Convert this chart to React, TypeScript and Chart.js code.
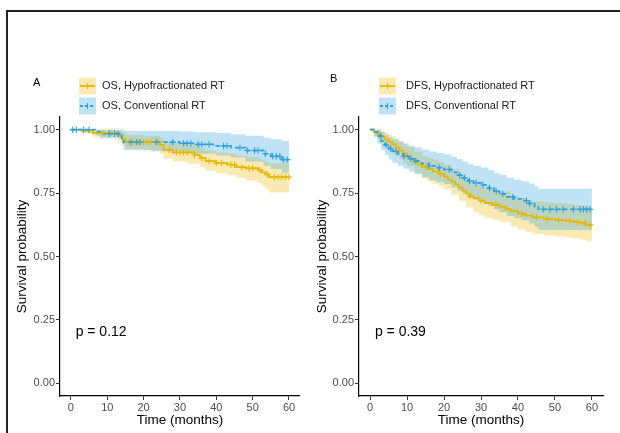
import React, { useEffect, useRef } from "react";
import { Chart, registerables } from "chart.js";

Chart.register(...registerables);
Chart.defaults.font.family = '"Liberation Sans", Arial, sans-serif';

const HYPO_COLOR = "#E7B800";
const CONV_COLOR = "#2E9FDF";
const HYPO_FILL = "rgba(231,184,0,0.3)";
const CONV_FILL = "rgba(46,159,223,0.3)";

// Axis ticks
const xTickValues = [0, 10, 20, 30, 40, 50, 60];
const xTickLabels = ["0", "10", "20", "30", "40", "50", "60"];
const yTickValues = [0, 0.25, 0.5, 0.75, 1];
const yTickLabels = ["0.00", "0.25", "0.50", "0.75", "1.00"];

// Panel A: OS
const osHypoTime = [0, 3, 6, 13, 14, 15, 24.5, 25.5, 28, 34, 35.5, 37, 40, 43, 45.5, 48, 51.5, 52.5, 53.5, 54.5, 60];
const osHypoSurv = [1, 0.995, 0.987, 0.976, 0.964, 0.951, 0.94, 0.92, 0.91, 0.9, 0.888, 0.876, 0.868, 0.862, 0.852, 0.848, 0.84, 0.832, 0.824, 0.813, 0.813];
const osHypoBandTime = [0, 3, 6, 13, 14, 15, 20, 24.5, 25.5, 28, 32, 35.5, 37, 40, 43, 45.5, 48, 51.5, 52.5, 53.5, 54.5, 60];
const osHypoLower = [1, 0.985, 0.972, 0.955, 0.94, 0.925, 0.918, 0.905, 0.885, 0.875, 0.866, 0.852, 0.838, 0.828, 0.82, 0.81, 0.8, 0.79, 0.78, 0.766, 0.752, 0.752];
const osHypoUpper = [1, 1, 1, 0.997, 0.99, 0.98, 0.975, 0.968, 0.955, 0.948, 0.94, 0.928, 0.918, 0.91, 0.905, 0.898, 0.893, 0.887, 0.88, 0.874, 0.868, 0.868];
const osHypoCensor = [9, 11, 16, 17, 18.5, 20, 21, 22, 24, 27, 29, 30, 31, 32, 34, 36, 38, 40, 41.5, 44, 45, 47, 49, 50, 52, 54, 56, 57, 58, 59, 60];

const osConvTime = [0, 7, 8, 14, 14.5, 30, 34, 40, 44, 48, 53, 55, 58, 60];
const osConvSurv = [1, 0.992, 0.984, 0.968, 0.951, 0.946, 0.942, 0.936, 0.929, 0.918, 0.905, 0.895, 0.882, 0.882];
const osConvBandTime = [0, 7, 8, 14, 14.5, 22, 30, 34, 40, 44, 48, 53, 55, 58, 60];
const osConvLower = [1, 0.977, 0.965, 0.945, 0.92, 0.915, 0.91, 0.905, 0.898, 0.89, 0.875, 0.858, 0.845, 0.83, 0.83];
const osConvUpper = [1, 1, 1, 1, 0.995, 0.995, 0.993, 0.99, 0.987, 0.982, 0.976, 0.968, 0.962, 0.955, 0.955];
const osConvCensor = [0.5, 1.5, 3.5, 5, 10.5, 12, 13, 16.5, 18, 19, 23.5, 28, 31, 32, 33, 35, 36, 38, 42, 43, 46.5, 48.5, 50.5, 51.5, 53.5, 55.5, 56.5, 57.5, 58.5, 59.5];

// Panel B: DFS
const dfsHypoTime = [0, 1, 2, 3, 4, 5, 6, 7, 8, 9, 10, 11, 12, 13, 14, 15.5, 17, 18.5, 20, 21, 22, 23, 24, 25, 26, 27, 28, 29.5, 31, 33, 35, 36.5, 38, 40, 42, 44, 47, 50, 53, 55, 57, 58.5, 60];
const dfsHypoSurv = [1, 0.99, 0.983, 0.972, 0.962, 0.952, 0.942, 0.93, 0.918, 0.906, 0.895, 0.884, 0.872, 0.862, 0.853, 0.845, 0.836, 0.826, 0.815, 0.804, 0.795, 0.784, 0.772, 0.76, 0.748, 0.738, 0.73, 0.72, 0.711, 0.704, 0.697, 0.688, 0.679, 0.669, 0.661, 0.654, 0.648, 0.644, 0.64, 0.636, 0.631, 0.625, 0.623];
const dfsHypoBandTime = [0, 1, 2, 3, 4, 5, 6, 7, 8, 9, 10, 12, 14, 15.5, 17, 18.5, 20, 22, 24, 26, 28, 29.5, 31, 33, 35, 38, 40, 42, 44, 47, 50, 53, 55, 57, 58.5, 60];
const dfsHypoLower = [1, 0.975, 0.962, 0.948, 0.935, 0.922, 0.91, 0.896, 0.882, 0.868, 0.856, 0.83, 0.808, 0.798, 0.787, 0.776, 0.764, 0.742, 0.718, 0.693, 0.674, 0.663, 0.653, 0.645, 0.637, 0.618, 0.607, 0.598, 0.59, 0.584, 0.579, 0.575, 0.571, 0.566, 0.56, 0.558];
const dfsHypoUpper = [1, 1, 1, 0.994, 0.987, 0.98, 0.972, 0.962, 0.952, 0.942, 0.933, 0.913, 0.896, 0.889, 0.881, 0.872, 0.862, 0.844, 0.823, 0.801, 0.785, 0.776, 0.768, 0.762, 0.756, 0.74, 0.731, 0.724, 0.718, 0.713, 0.71, 0.707, 0.703, 0.699, 0.694, 0.692];
const dfsHypoCensor = [8, 15, 19, 27, 30, 34, 37, 41, 45, 48, 51, 54, 56, 58, 59.5];

const dfsConvTime = [0, 1, 2, 3, 4, 5, 6, 7.5, 9, 10.5, 12, 14, 16, 18, 20, 22, 23.5, 25, 26.5, 28, 30, 32, 33.5, 35, 37, 39, 41, 43, 44.5, 45.5, 60];
const dfsConvSurv = [1, 0.99, 0.975, 0.955, 0.94, 0.925, 0.915, 0.905, 0.895, 0.885, 0.876, 0.866, 0.857, 0.85, 0.843, 0.832, 0.821, 0.81, 0.797, 0.79, 0.782, 0.77, 0.757, 0.747, 0.735, 0.727, 0.72, 0.709, 0.697, 0.686, 0.686];
const dfsConvBandTime = [0, 1, 2, 3, 4, 5, 6, 7.5, 9, 10.5, 12, 14, 16, 18, 20, 22, 23.5, 25, 26.5, 28, 30, 32, 33.5, 35, 37, 39, 41, 43, 44.5, 45.5, 60];
const dfsConvLower = [1, 0.97, 0.945, 0.92, 0.9, 0.882, 0.87, 0.858, 0.846, 0.835, 0.824, 0.812, 0.801, 0.793, 0.785, 0.772, 0.759, 0.747, 0.732, 0.724, 0.714, 0.7, 0.686, 0.674, 0.66, 0.651, 0.643, 0.63, 0.617, 0.604, 0.604];
const dfsConvUpper = [1, 1, 1, 0.99, 0.98, 0.97, 0.962, 0.954, 0.946, 0.937, 0.93, 0.921, 0.914, 0.908, 0.902, 0.893, 0.884, 0.875, 0.864, 0.858, 0.851, 0.841, 0.829, 0.821, 0.81, 0.803, 0.797, 0.788, 0.777, 0.767, 0.767];
const dfsConvCensor = [2.9, 4.3, 5.6, 7, 9.2, 11, 12.4, 16, 18.7, 21.4, 24.2, 25.5, 26.9, 28.7, 30.5, 32.3, 34.1, 35.9, 38.6, 42.3, 43.2, 46.8, 48.6, 50.4, 52.2, 55, 56.8, 57.7, 58.6, 59.5];

const osLabels = ["OS, Hypofractionated RT", "OS, Conventional RT"];
const dfsLabels = ["DFS, Hypofractionated RT", "DFS, Conventional RT"];
const osPValue = "p = 0.12";
const dfsPValue = "p = 0.39";

type Series = { time: number[]; surv: number[]; bandTime: number[]; lower: number[]; upper: number[]; censor: number[] };

const pts = (t: number[], v: number[]) => t.map((x, i) => ({ x, y: v[i] }));
const survAt = (t: number[], s: number[], x: number) => {
  let v = s[0];
  for (let i = 0; i < t.length; i++) if (t[i] <= x) v = s[i];
  return v;
};

type PanelCfg = {
  yAxisWidth: number;
  rightPad: number;
  yTitlePad: number;
  letter: string;
  letterX: number;
  letterY: number;
  keyX: number;
  textX: number;
  keyY1: number;
  keyY2: number;
  labels: string[];
  pval: string;
  hypo: Series;
  conv: Series;
};

function makeChart(canvas: HTMLCanvasElement, cfg: PanelCfg) {
  const { hypo, conv } = cfg;
  const annot = {
    id: "annot",
    afterDraw(chart: any) {
      const ctx = chart.ctx as CanvasRenderingContext2D;
      const font = '"Liberation Sans", Arial, sans-serif';
      ctx.save();
      ctx.fillStyle = "#000";
      ctx.font = `11px ${font}`;
      ctx.textAlign = "left";
      ctx.textBaseline = "middle";
      ctx.fillText(cfg.letter, cfg.letterX, cfg.letterY);
      const keys = [
        { y: cfg.keyY1, fill: HYPO_FILL, color: HYPO_COLOR, dash: [] as number[], label: cfg.labels[0] },
        { y: cfg.keyY2, fill: CONV_FILL, color: CONV_COLOR, dash: [3, 2], label: cfg.labels[1] },
      ];
      keys.forEach((k) => {
        ctx.fillStyle = k.fill;
        ctx.fillRect(cfg.keyX, k.y - 8.5, 17, 17);
        ctx.strokeStyle = k.color;
        ctx.lineWidth = 1.8;
        ctx.setLineDash(k.dash);
        ctx.beginPath();
        ctx.moveTo(cfg.keyX + 1, k.y);
        ctx.lineTo(cfg.keyX + 16, k.y);
        ctx.stroke();
        ctx.setLineDash([]);
        ctx.lineWidth = 1.1;
        ctx.beginPath();
        ctx.moveTo(cfg.keyX + 8.5, k.y - 3);
        ctx.lineTo(cfg.keyX + 8.5, k.y + 3);
        ctx.stroke();
        ctx.fillStyle = "#1a1a1a";
        ctx.font = `11px ${font}`;
        ctx.fillText(k.label, cfg.textX, k.y);
      });
      const xs = chart.scales.x;
      const ys = chart.scales.y;
      ctx.fillStyle = "#000";
      ctx.font = `14px ${font}`;
      ctx.fillText(cfg.pval, xs.getPixelForValue(1.3), ys.getPixelForValue(0.2));
      ctx.restore();
    },
  };

  const lineBase = { pointRadius: 0, stepped: "before" as const, tension: 0 };
  const bandDs = (s: Series, vals: number[], fill: any, color: string) => ({
    ...lineBase,
    data: pts(s.bandTime, vals),
    borderColor: "rgba(0,0,0,0)",
    borderWidth: 0,
    backgroundColor: color,
    fill,
  });
  const censorDs = (s: Series, color: string) => ({
    data: s.censor.map((x) => ({ x, y: survAt(s.time, s.surv, x) })),
    showLine: false,
    pointStyle: "cross",
    pointRadius: 3.2,
    pointBorderWidth: 1.1,
    borderColor: color,
    backgroundColor: color,
    fill: false,
  });

  return new Chart(canvas, {
    type: "line",
    data: {
      datasets: [
        censorDs(conv, CONV_COLOR),
        censorDs(hypo, HYPO_COLOR),
        { ...lineBase, data: pts(conv.time, conv.surv), borderColor: CONV_COLOR, borderWidth: 1.8, borderDash: [4, 3], fill: false },
        { ...lineBase, data: pts(hypo.time, hypo.surv), borderColor: HYPO_COLOR, borderWidth: 1.8, fill: false },
        bandDs(conv, conv.upper, "+1", CONV_FILL),
        bandDs(conv, conv.lower, false, CONV_FILL),
        bandDs(hypo, hypo.upper, "+1", HYPO_FILL),
        bandDs(hypo, hypo.lower, false, HYPO_FILL),
      ] as any,
    },
    options: {
      responsive: false,
      animation: false,
      events: [],
      layout: { padding: { top: 117, right: cfg.rightPad, left: 0, bottom: 0 } },
      plugins: { legend: { display: false }, tooltip: { enabled: false } },
      scales: {
        x: {
          type: "linear",
          min: -3,
          max: 63,
          afterBuildTicks: (s: any) => {
            s.ticks = xTickValues.map((v) => ({ value: v }));
          },
          afterFit: (s: any) => {
            s.height = 37;
          },
          ticks: {
            color: "#4d4d4d",
            font: { size: 11 },
            padding: 1,
            maxRotation: 0,
            autoSkip: false,
            callback: (v: any) => xTickLabels[xTickValues.indexOf(Number(v))],
          },
          grid: { drawOnChartArea: false, drawTicks: true, tickLength: 4, color: "#333", lineWidth: 1 },
          border: { display: true, color: "#000", width: 1.2 },
          title: { display: true, text: "Time (months)", color: "#000", font: { size: 13.5 }, padding: { top: 0, bottom: 5 } },
        },
        y: {
          type: "linear",
          min: -0.05,
          max: 1.05,
          afterBuildTicks: (s: any) => {
            s.ticks = yTickValues.map((v) => ({ value: v }));
          },
          afterFit: (s: any) => {
            s.width = cfg.yAxisWidth;
          },
          ticks: {
            color: "#4d4d4d",
            font: { size: 11 },
            padding: 1,
            autoSkip: false,
            callback: (v: any) => yTickLabels[yTickValues.indexOf(Number(v))],
          },
          grid: { drawOnChartArea: false, drawTicks: true, tickLength: 4, color: "#333", lineWidth: 1 },
          border: { display: true, color: "#000", width: 1.2 },
          title: { display: true, text: "Survival probability", color: "#000", font: { size: 13.5 }, padding: { top: cfg.yTitlePad, bottom: 0 } },
        },
      },
    } as any,
    plugins: [annot],
  });
}

export default function App() {
  const refA = useRef<HTMLCanvasElement>(null);
  const refB = useRef<HTMLCanvasElement>(null);

  useEffect(() => {
    const a = makeChart(refA.current!, {
      yAxisWidth: 60,
      rightPad: 3,
      yTitlePad: 14,
      letter: "A",
      letterX: 33,
      letterY: 83,
      keyX: 79,
      textX: 102,
      keyY1: 86,
      keyY2: 106,
      labels: osLabels,
      pval: osPValue,
      hypo: { time: osHypoTime, surv: osHypoSurv, bandTime: osHypoBandTime, lower: osHypoLower, upper: osHypoUpper, censor: osHypoCensor },
      conv: { time: osConvTime, surv: osConvSurv, bandTime: osConvBandTime, lower: osConvLower, upper: osConvUpper, censor: osConvCensor },
    });
    const b = makeChart(refB.current!, {
      yAxisWidth: 54,
      rightPad: 17,
      yTitlePad: 9,
      letter: "B",
      letterX: 25,
      letterY: 79,
      keyX: 74,
      textX: 101,
      keyY1: 86,
      keyY2: 106,
      labels: dfsLabels,
      pval: dfsPValue,
      hypo: { time: dfsHypoTime, surv: dfsHypoSurv, bandTime: dfsHypoBandTime, lower: dfsHypoLower, upper: dfsHypoUpper, censor: dfsHypoCensor },
      conv: { time: dfsConvTime, surv: dfsConvSurv, bandTime: dfsConvBandTime, lower: dfsConvLower, upper: dfsConvUpper, censor: dfsConvCensor },
    });
    return () => {
      a.destroy();
      b.destroy();
    };
  }, []);

  return (
    <div style={{ position: "absolute", left: 0, top: 0, width: 620, height: 433, background: "#fff", overflow: "hidden" }}>
      <div style={{ position: "absolute", left: 6, top: 10, width: 700, height: 500, borderTop: "2px solid #222", borderLeft: "2px solid #222" }} />
      <canvas ref={refA} width={305} height={433} style={{ position: "absolute", left: 0, top: 0, width: 305, height: 433 }} />
      <canvas ref={refB} width={315} height={433} style={{ position: "absolute", left: 305, top: 0, width: 315, height: 433 }} />
    </div>
  );
}
